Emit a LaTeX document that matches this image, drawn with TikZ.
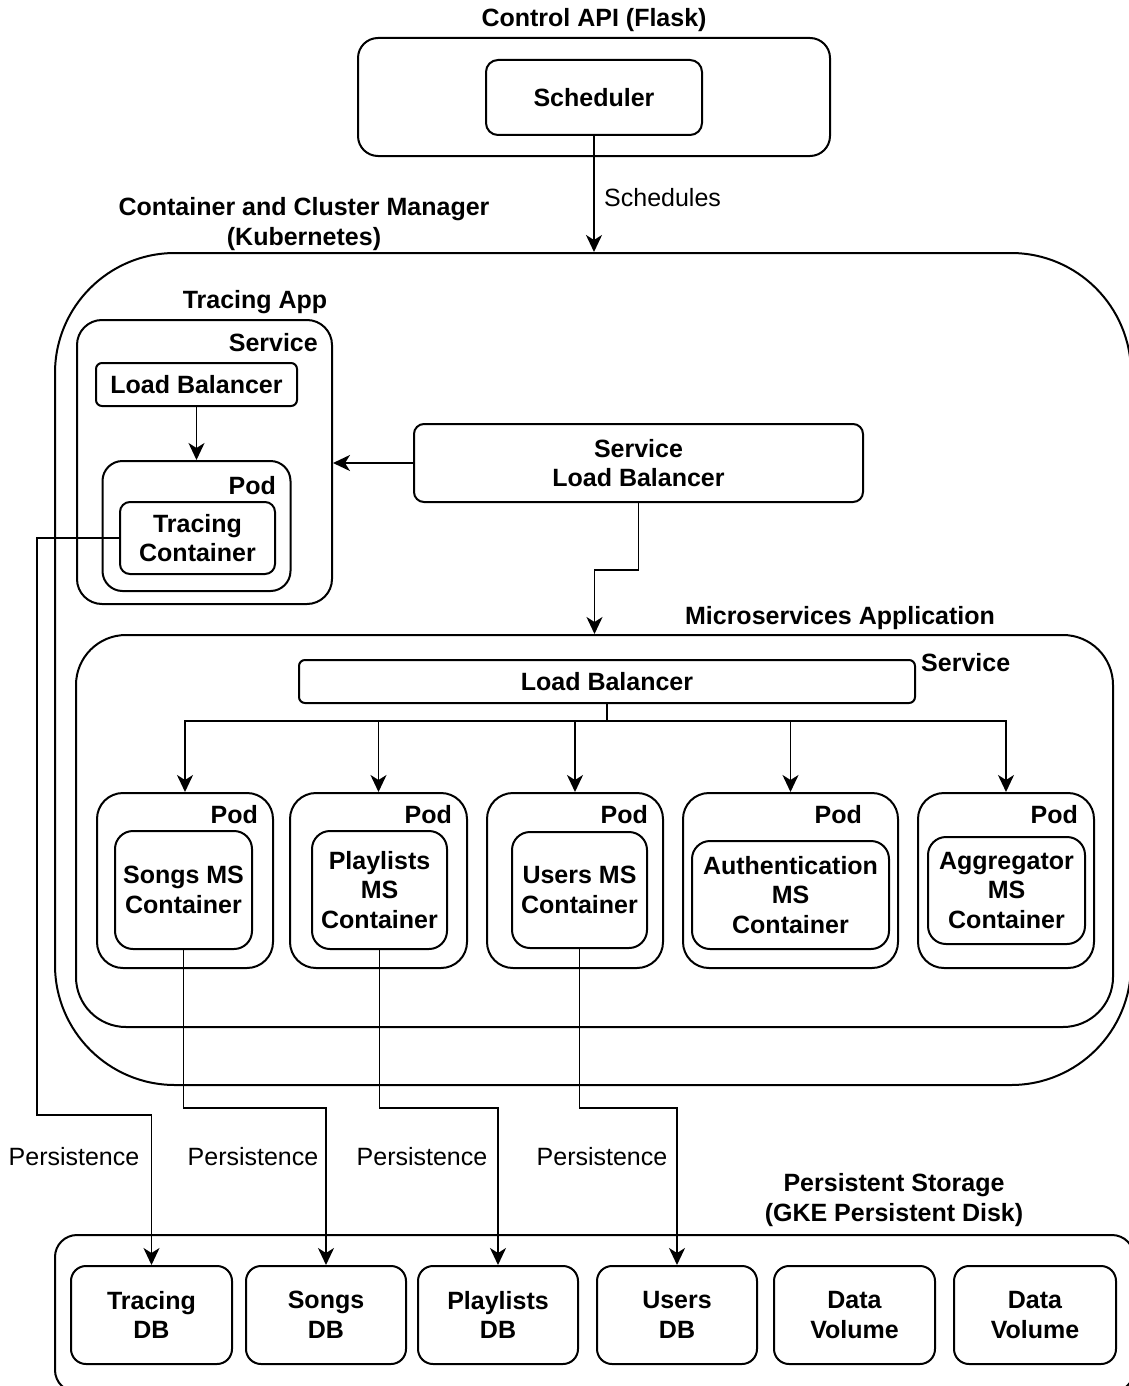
\documentclass[tikz,border=0pt]{standalone}
\usepackage{fontspec}
\setmainfont{Liberation Sans}
\usetikzlibrary{arrows.meta}
\newcommand\dgfont{\fontsize{25}{29.5}\selectfont}
\begin{document}
\begin{tikzpicture}[x=1pt,y=-1pt,
  box/.style={draw, line width=2pt, inner sep=0pt, align=center, font=\dgfont\bfseries},
  lbl/.style={inner sep=0pt, align=center, font=\dgfont\bfseries},
  plain/.style={inner sep=0pt, font=\dgfont},
  arr/.style={line width=1.9pt, -{Stealth[length=17pt,width=16pt,inset=5pt]}}]
\useasboundingbox (0,0) rectangle (1129,1386);

% Control API
\node[box, rounded corners=20pt, minimum width=472, minimum height=118] (ctrl) at (594,97) {};
\node[lbl] (ctrllbl) at (594,20) {Control API (Flask)};
\node[box, rounded corners=12pt, minimum width=216, minimum height=75] (sched) at (594,97.5) {Scheduler};

% Kubernetes cluster
\node[box, rounded corners=120pt, minimum width=1076, minimum height=832] (k8s) at (593,669) {};
\node[lbl] (k8slbl) at (304,224) {Container and Cluster Manager\\(Kubernetes)};
\draw[arr] (sched.south) -- (sched.south |- k8s.north);
\node[plain, anchor=west] (schedlbl) at (604,198) {Schedules};

% Tracing app
\node[lbl] (tapplbl) at (255,302) {Tracing App};
\node[box, rounded corners=25pt, minimum width=255, minimum height=284] (tsvc) at (204.5,462) {};
\node[lbl, anchor=east] (tsvclbl) at (318,343) {Service};
\node[box, rounded corners=6pt, minimum width=201, minimum height=43] (tlb) at (196.5,384.5) {Load Balancer};
\node[box, rounded corners=20pt, minimum width=188, minimum height=130] (tpod) at (196.5,526) {};
\node[lbl, anchor=east] (tpodlbl) at (276,486) {Pod};
\node[box, rounded corners=10pt, minimum width=155, minimum height=72] (tcont) at (197.5,538) {Tracing\\Container};
\draw[arr] (tlb.south) -- (tpod.north);

% Service load balancer
\node[box, rounded corners=10pt, minimum width=449, minimum height=78] (slb) at (638.5,463) {Service\\Load Balancer};
\draw[arr] (slb.west) -- (slb.west -| tsvc.east);

% Microservices application
\node[lbl] (mslbl) at (840,618) {Microservices Application};
\node[box, rounded corners=50pt, minimum width=1037, minimum height=392] (ms) at (594.5,831) {};
\draw[arr] (slb.south) -- ++(0,67) -| (ms.north);
\node[box, rounded corners=6pt, minimum width=616, minimum height=43] (mlb) at (607,681.5) {Load Balancer};
\node[lbl, anchor=west] (msvclbl) at (921,663) {Service};

% Pods
\node[box, rounded corners=26pt, minimum width=176, minimum height=175] (pod1) at (185,880.5) {};
\node[box, rounded corners=26pt, minimum width=177, minimum height=175] (pod2) at (378.5,880.5) {};
\node[box, rounded corners=26pt, minimum width=176, minimum height=175] (pod3) at (575,880.5) {};
\node[box, rounded corners=26pt, minimum width=215, minimum height=175] (pod4) at (790.5,880.5) {};
\node[box, rounded corners=26pt, minimum width=176, minimum height=175] (pod5) at (1006,880.5) {};
\node[lbl, anchor=east] (pod1lbl) at (258,815) {Pod};
\node[lbl, anchor=east] (pod2lbl) at (452,815) {Pod};
\node[lbl, anchor=east] (pod3lbl) at (648,815) {Pod};
\node[lbl, anchor=east] (pod4lbl) at (862,815) {Pod};
\node[lbl, anchor=east] (pod5lbl) at (1078,815) {Pod};

% Containers
\node[box, rounded corners=18pt, minimum width=137, minimum height=118] (c1) at (183.5,890) {Songs MS\\Container};
\node[box, rounded corners=18pt, minimum width=135, minimum height=118] (c2) at (379.5,890) {Playlists\\MS\\Container};
\node[box, rounded corners=18pt, minimum width=135, minimum height=116] (c3) at (579.5,890) {Users MS\\Container};
\node[box, rounded corners=18pt, minimum width=197, minimum height=108] (c4) at (790.5,895) {Authentication\\MS\\Container};
\node[box, rounded corners=18pt, minimum width=157, minimum height=107] (c5) at (1006.5,890.5) {Aggregator\\MS\\Container};

% Load balancer fan-out
\foreach \p in {pod1,pod2,pod3,pod4,pod5}
  \draw[arr] (mlb.south) -- ++(0,17) -| (\p.north);

% Persistent storage
\node[lbl] (pslbl) at (894,1200) {Persistent Storage\\(GKE Persistent Disk)};
\node[box, rounded corners=22pt, minimum width=1079, minimum height=157] (store) at (594.5,1313.5) {};
\node[box, rounded corners=15pt, minimum width=161, minimum height=98] (tdb) at (151.5,1315) {Tracing\\DB};
\node[box, rounded corners=15pt, minimum width=160, minimum height=98] (sdb) at (326,1315) {Songs\\DB};
\node[box, rounded corners=15pt, minimum width=160, minimum height=98] (pdb) at (498,1315) {Playlists\\DB};
\node[box, rounded corners=15pt, minimum width=160, minimum height=98] (udb) at (677,1315) {Users\\DB};
\node[box, rounded corners=15pt, minimum width=161, minimum height=98] (dv1) at (854.5,1315) {Data\\Volume};
\node[box, rounded corners=15pt, minimum width=162, minimum height=98] (dv2) at (1035,1315) {Data\\Volume};

% Persistence connectors
\coordinate (tbend) at (37,1115);
\coordinate (pbus) at (0,1108);
\draw[arr] (tcont.west) -| (tbend) -| (tdb.north);
\draw[arr] (c1.south) -- (c1.south |- pbus) -| (sdb.north);
\draw[arr] (c2.south) -- (c2.south |- pbus) -| (pdb.north);
\draw[arr] (c3.south) -- (c3.south |- pbus) -| (udb.north);
\node[plain] (per1) at (74,1157) {Persistence};
\node[plain] (per2) at (253,1157) {Persistence};
\node[plain] (per3) at (422,1157) {Persistence};
\node[plain] (per4) at (602,1157) {Persistence};
\end{tikzpicture}
\end{document}
